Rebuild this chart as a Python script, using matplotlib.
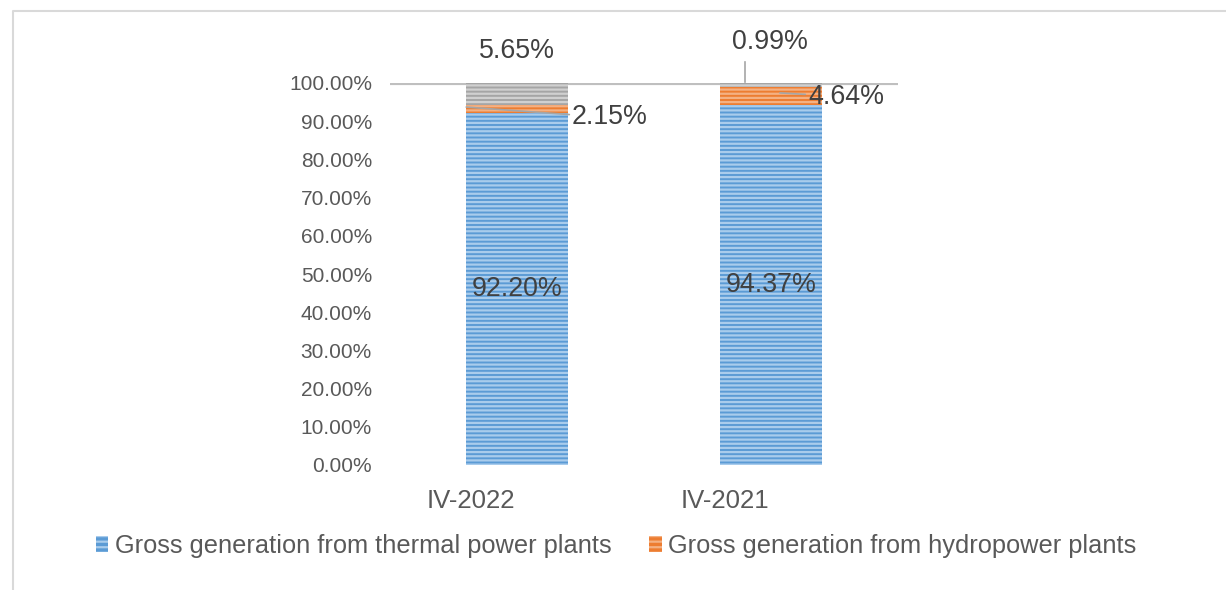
import matplotlib
matplotlib.use('Agg')
import matplotlib.pyplot as plt
from matplotlib.lines import Line2D
from matplotlib.patches import Patch

# data
categories = ['IV-2022', 'IV-2021']
thermal = [92.20, 94.37]
hydro = [2.15, 4.64]
other = [5.65, 0.99]
legendNames = ['Gross generation from thermal power plants', 'Gross generation from hydropower plants']
yticks = [0, 10, 20, 30, 40, 50, 60, 70, 80, 90, 100]

plt.rcParams['font.family'] = ['Liberation Sans', 'DejaVu Sans']
plt.rcParams['hatch.linewidth'] = 1.6

blue, blueHatch = '#5B9BD5', '#A9CCEC'
orange, orangeHatch = '#ED7D31', '#F4B183'
gray, grayHatch = '#A5A5A5', '#D0D0D0'
labelColor = '#404040'
tickColor = '#595959'

fig = plt.figure(figsize=(12.26, 5.90), dpi=100)
ax = fig.add_axes([390/1226, 125/590, 508/1226, 382/590])

x = range(len(categories))
w = 0.4
bottom2 = [a + b for a, b in zip(thermal, hydro)]
ax.bar(x, thermal, w, color=blue, edgecolor=blueHatch, hatch='----', linewidth=0)
ax.bar(x, hydro, w, bottom=thermal, color=orange, edgecolor=orangeHatch, hatch='----', linewidth=0)
ax.bar(x, other, w, bottom=bottom2, color=gray, edgecolor=grayHatch, hatch='----', linewidth=0)

# 100% line
ax.axhline(100, color='#BFBFBF', lw=3, zorder=0.5)

ax.set_xlim(-0.5, 1.5)
ax.set_ylim(0, 100)
ax.set_yticks(yticks)
ax.set_yticklabels(['%.2f%%' % v for v in yticks], color=tickColor, fontsize=15)
ax.set_xticks([])
ax.tick_params(length=0, pad=13)
for s in ax.spines.values():
    s.set_visible(False)

# category labels, sitting a little left of the bars like in the source
for i, c in enumerate(categories):
    ax.annotate(c, xy=(i, 0), xytext=(-33, -26), textcoords='offset points', ha='center', va='center',
                fontsize=18.5, color=tickColor, annotation_clip=False)

# data labels
fs = 19.3
ax.text(0, thermal[0] / 2, '%.2f%%' % thermal[0], ha='center', va='center', fontsize=fs, color=labelColor)
ax.text(1, thermal[1] / 2, '%.2f%%' % thermal[1], ha='center', va='center', fontsize=fs, color=labelColor)
lc = '#A6A6A6'
ax.annotate('%.2f%%' % hydro[0], xy=(-0.2, 93.7), xytext=(0.217, 91.0), ha='left', va='center',
            fontsize=fs, color=labelColor, arrowprops=dict(arrowstyle='-', color=lc, lw=1.2,
            shrinkA=0, shrinkB=0, relpos=(0, 0.6)), annotation_clip=False)
ax.text(0, 108.5, '%.2f%%' % other[0], ha='center', va='center', fontsize=fs, color=labelColor, clip_on=False)
ax.annotate('%.2f%%' % hydro[1], xy=(1.035, 97.4), xytext=(1.146, 96.3), ha='left', va='center',
            fontsize=fs, color=labelColor, arrowprops=dict(arrowstyle='-', color=lc, lw=1.2,
            shrinkA=0, shrinkB=0, relpos=(0, 0.6)), annotation_clip=False)
ax.text(0.996, 110.7, '%.2f%%' % other[1], ha='center', va='center', fontsize=fs, color=labelColor, clip_on=False)
ax.plot([0.898, 0.898], [100.3, 105.5], color=lc, lw=1.2, clip_on=False)

# legend
handles = [Patch(facecolor=blue, edgecolor=blueHatch, hatch='---', linewidth=0),
           Patch(facecolor=orange, edgecolor=orangeHatch, hatch='---', linewidth=0)]
fig.legend(handles, legendNames, loc='center', bbox_to_anchor=(0.5025, 0.0746), ncol=2, frameon=False,
           fontsize=18.3, labelcolor=tickColor, handlelength=0.5, handleheight=0.55, handletextpad=0.25,
           columnspacing=1.5)

# outer frame (left and top only, rest is cut off)
fx = 12.5 / 1226
fy = 1 - 10.5 / 590
fig.add_artist(Line2D([fx, fx, 1], [0, fy, fy], transform=fig.transFigure, color='#D9D9D9', lw=1.5))

fig.savefig('out.png', dpi=100, facecolor='white')
